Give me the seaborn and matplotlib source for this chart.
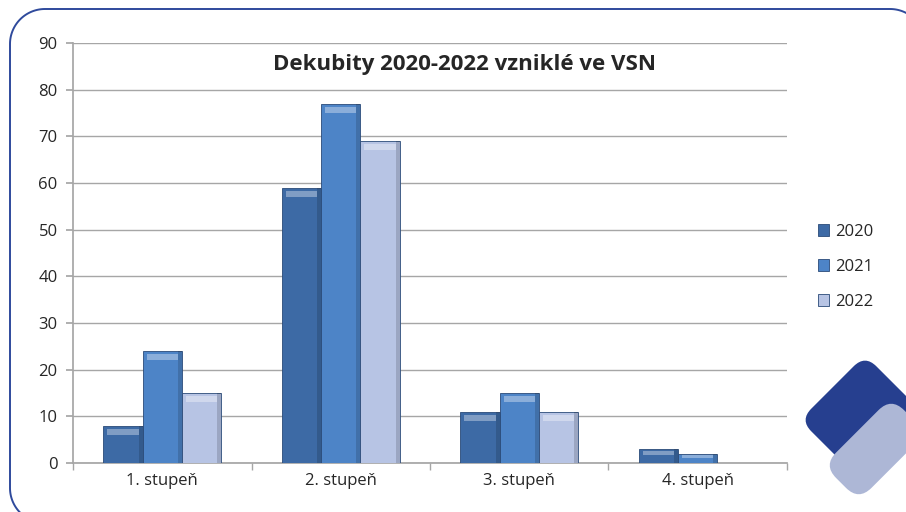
import matplotlib
matplotlib.use("Agg")
import matplotlib.pyplot as plt
import seaborn as sns
import pandas as pd
import numpy as np
from matplotlib.patches import FancyBboxPatch
from matplotlib.transforms import Affine2D

# data
categories = ["1. stupeň", "2. stupeň", "3. stupeň", "4. stupeň"]
years = ["2020", "2021", "2022"]
values_2020 = [8, 59, 11, 3]
values_2021 = [24, 77, 15, 2]
values_2022 = [15, 69, 11, 0]
year_colors = ["#3d6aa5", "#4d84c7", "#b7c4e4"]

df = pd.DataFrame({
    "stupen": categories * 3,
    "rok": [y for y in years for _ in categories],
    "pocet": values_2020 + values_2021 + values_2022,
})

sns.set_theme(style="white")
plt.rcParams["font.family"] = ["Open Sans", "DejaVu Sans"]

fig = plt.figure(figsize=(9.06, 5.12), dpi=100)

# decorative frame and shapes, drawn in pixel coords on a background axes
bg = fig.add_axes([0, 0, 1, 1], zorder=0)
bg.set_xlim(0, 906)
bg.set_ylim(512, 0)
bg.axis("off")


def arc(cx, cy, r, a0, a1):
    t = np.radians(np.linspace(a0, a1, 40))
    return cx + r * np.cos(t), cy + r * np.sin(t)


# frame outline (y down): bottom-left arc, left edge, top-left arc, top edge, top-right arc
r = 35
bx, by = arc(45, 488, r, 90, 180)
lx, ly = [10, 10], [488, 44]
tlx, tly = arc(45, 44, r, 180, 270)
trx, try_ = arc(890, 44, r, 270, 360)
frame_x = np.concatenate([bx, lx, tlx, trx])
frame_y = np.concatenate([by, ly, tly, try_])
bg.plot(frame_x, frame_y, color="#2f4a9c", linewidth=1.4, solid_capstyle="round")

# dark diamond
dark = FancyBboxPatch((865 - 46, 420 - 46), 92, 92, boxstyle="round,pad=0,rounding_size=16",
                      facecolor="#263f8f", edgecolor="none")
dark.set_transform(Affine2D().rotate_deg_around(865, 420, 45) + bg.transData)
bg.add_patch(dark)
# light rounded rectangle
light = FancyBboxPatch((875 - 48, 449 - 25), 96, 50, boxstyle="round,pad=0,rounding_size=18",
                       facecolor="#adb7d6", edgecolor="none")
light.set_transform(Affine2D().rotate_deg_around(875, 449, -45) + bg.transData)
bg.add_patch(light)

ax = fig.add_axes([0.0806, 0.0957, 0.788, 0.8203], zorder=1)
ax.patch.set_alpha(0)

sns.barplot(data=df, x="stupen", y="pocet", hue="rok", palette=year_colors,
            width=0.66, gap=0, ax=ax, zorder=3, saturation=1,
            edgecolor="#2a4a78", linewidth=0.6)

# bevel look: light band near the top, darker right side
for bar in list(ax.patches):
    h = bar.get_height()
    if h <= 0:
        continue
    x0, w = bar.get_x(), bar.get_width()
    band = min(1.3, h * 0.3)
    ax.add_patch(plt.Rectangle((x0 + w * 0.1, h - band * 1.5), w * 0.8, band,
                               facecolor="white", alpha=0.35, linewidth=0, zorder=4))
    ax.add_patch(plt.Rectangle((x0 + w * 0.9, 0), w * 0.1, h,
                               facecolor="black", alpha=0.15, linewidth=0, zorder=4))

ax.set_ylim(0, 90)
ax.set_yticks(range(0, 91, 10))
ax.set_xlim(-0.5, 3.5)
ax.yaxis.grid(True, color="#a6a6a6", linewidth=1.0)
ax.set_axisbelow(True)
for s in ["top", "right"]:
    ax.spines[s].set_visible(False)
ax.spines["left"].set_color("#a6a6a6")
ax.spines["bottom"].set_color("#a6a6a6")
ax.set_xlabel("")
ax.set_ylabel("")
ax.tick_params(axis="y", length=5, color="#a6a6a6", labelsize=12, pad=6, left=True)
ax.tick_params(axis="x", length=0, labelsize=12, pad=7)
ax.set_xticks([-0.5, 0.5, 1.5, 2.5, 3.5], minor=True)
ax.tick_params(axis="x", which="minor", length=5, color="#a6a6a6", bottom=True)

ax.set_title("Dekubity 2020-2022 vzniklé ve VSN", fontsize=16, fontweight="bold",
             y=0.917, x=0.549)

leg = ax.legend(loc="center left", bbox_to_anchor=(1.022, 0.467), frameon=False,
                fontsize=12, handlelength=0.7, handleheight=0.7, handletextpad=0.35,
                labelspacing=1.15)

fig.savefig("out.png", dpi=100)
